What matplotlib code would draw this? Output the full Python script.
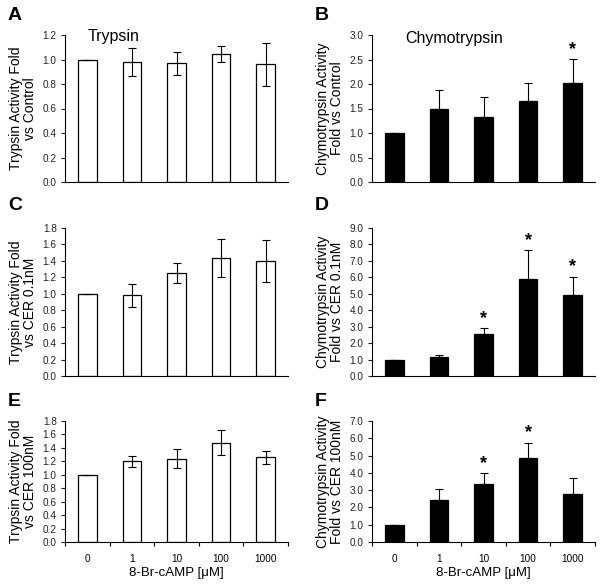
import numpy as np
import matplotlib.pyplot as plt

plt.rcParams['font.family'] = ['Liberation Sans', 'DejaVu Sans']

doses = ['0', '1', '10', '100', '1000']

# trypsin (white bars), mean and sem
tryp_ctrl = [1.0, 0.98, 0.97, 1.045, 0.96]
tryp_ctrl_err = [0.0, 0.115, 0.095, 0.065, 0.175]
tryp_cer01 = [1.0, 0.98, 1.255, 1.44, 1.40]
tryp_cer01_err = [0.0, 0.135, 0.123, 0.23, 0.26]
tryp_cer100 = [1.0, 1.20, 1.24, 1.48, 1.26]
tryp_cer100_err = [0.0, 0.085, 0.145, 0.18, 0.10]

# chymotrypsin (black bars), mean and upper sem
chymo_ctrl = [1.0, 1.48, 1.33, 1.66, 2.02]
chymo_ctrl_err = [0.0, 0.40, 0.40, 0.36, 0.49]
chymo_cer01 = [1.0, 1.17, 2.55, 5.88, 4.92]
chymo_cer01_err = [0.0, 0.13, 0.35, 1.77, 1.13]
chymo_cer100 = [1.0, 2.42, 3.38, 4.85, 2.80]
chymo_cer100_err = [0.0, 0.63, 0.59, 0.88, 0.93]

stars_ctrl = [4]
stars_cer01 = [2, 3, 4]
stars_cer100 = [2, 3]

W, H = 600, 584
fig = plt.figure(figsize=(6, 5.84), dpi=100)


def px_axes(x0, x1, y0, y1):
    return fig.add_axes([x0 / W, 1 - y1 / H, (x1 - x0) / W, (y1 - y0) / H])


def draw_panel(ax, vals, errs, white, ymax, ystep, ylabel, stars, bottom_row):
    x = np.arange(len(vals))
    if white:
        ax.bar(x, vals, width=0.42, color='white', edgecolor='black', linewidth=0.9, zorder=2)
        ax.errorbar(x, vals, yerr=errs, fmt='none', ecolor='black', elinewidth=0.8,
                    capsize=2.6, capthick=0.8, zorder=3)
    else:
        lo = np.zeros(len(vals))
        ax.bar(x, vals, width=0.42, color='black', edgecolor='black', linewidth=0.9, zorder=2)
        ax.errorbar(x, vals, yerr=[lo, errs], fmt='none', ecolor='black', elinewidth=0.8,
                    capsize=2.6, capthick=0.8, zorder=1)
    for i in stars:
        ax.annotate('*', (x[i], vals[i] + errs[i]), xytext=(0, 1), textcoords='offset points',
                    ha='center', va='bottom', fontsize=13, fontweight='bold')
    ax.set_xlim(-0.5, len(vals) - 0.5)
    ax.set_ylim(0, ymax)
    ax.set_yticks(np.arange(0, ymax + ystep / 2, ystep))
    ax.yaxis.set_major_formatter(plt.FormatStrFormatter('%.1f'))
    ax.tick_params(axis='y', direction='out', length=3, width=0.8, labelsize=7.2, pad=3,
                   colors='#222222')
    for s in ['top', 'right']:
        ax.spines[s].set_visible(False)
    for s in ['left', 'bottom']:
        ax.spines[s].set_linewidth(0.8)
    ax.set_ylabel(ylabel, fontsize=10, labelpad=4, linespacing=1.05)
    if bottom_row:
        ax.set_xticks(np.arange(-0.5, len(vals)))
        ax.set_xticklabels([])
        ax.set_xticks(x, minor=True)
        ax.set_xticklabels(doses, minor=True)
        ax.tick_params(axis='x', which='major', direction='out', length=3, width=0.8)
        ax.tick_params(axis='x', which='minor', length=0, labelsize=7.2, pad=9)
        ax.set_xlabel('8-Br-cAMP [\u03bcM]', fontsize=9.5, labelpad=2)
    else:
        ax.set_xticks([])


axA = px_axes(65, 288, 35, 182)
axB = px_axes(372, 595, 35, 182)
axC = px_axes(65, 288, 228, 376)
axD = px_axes(372, 595, 228, 376)
axE = px_axes(65, 288, 421, 542)
axF = px_axes(372, 595, 421, 542)

draw_panel(axA, tryp_ctrl, tryp_ctrl_err, True, 1.2, 0.2,
           'Trypsin Activity Fold\nvs Control', [], False)
draw_panel(axB, chymo_ctrl, chymo_ctrl_err, False, 3.0, 0.5,
           'Chymotrypsin Activity\nFold vs Control', stars_ctrl, False)
draw_panel(axC, tryp_cer01, tryp_cer01_err, True, 1.8, 0.2,
           'Trypsin Activity Fold\nvs CER 0.1nM', [], False)
draw_panel(axD, chymo_cer01, chymo_cer01_err, False, 9.0, 1.0,
           'Chymotrypsin Activity\nFold vs CER 0.1nM', stars_cer01, False)
draw_panel(axE, tryp_cer100, tryp_cer100_err, True, 1.8, 0.2,
           'Trypsin Activity Fold\nvs CER 100nM', [], True)
draw_panel(axF, chymo_cer100, chymo_cer100_err, False, 7.0, 1.0,
           'Chymotrypsin Activity\nFold vs CER 100nM', stars_cer100, True)

fig.text(114 / W, 1 - 37 / H, 'Trypsin', fontsize=11.5, ha='center', va='center')
fig.text(454 / W, 1 - 38 / H, 'Chymotrypsin', fontsize=11.5, ha='center', va='center')

for lab, px, py in [('A', 8, 7), ('B', 315, 7), ('C', 8, 197), ('D', 315, 197),
                    ('E', 8, 393), ('F', 315, 393)]:
    fig.text(px / W, 1 - py / H, lab, fontsize=14, fontweight='bold', ha='left', va='top')

fig.savefig('out.png', dpi=100)
